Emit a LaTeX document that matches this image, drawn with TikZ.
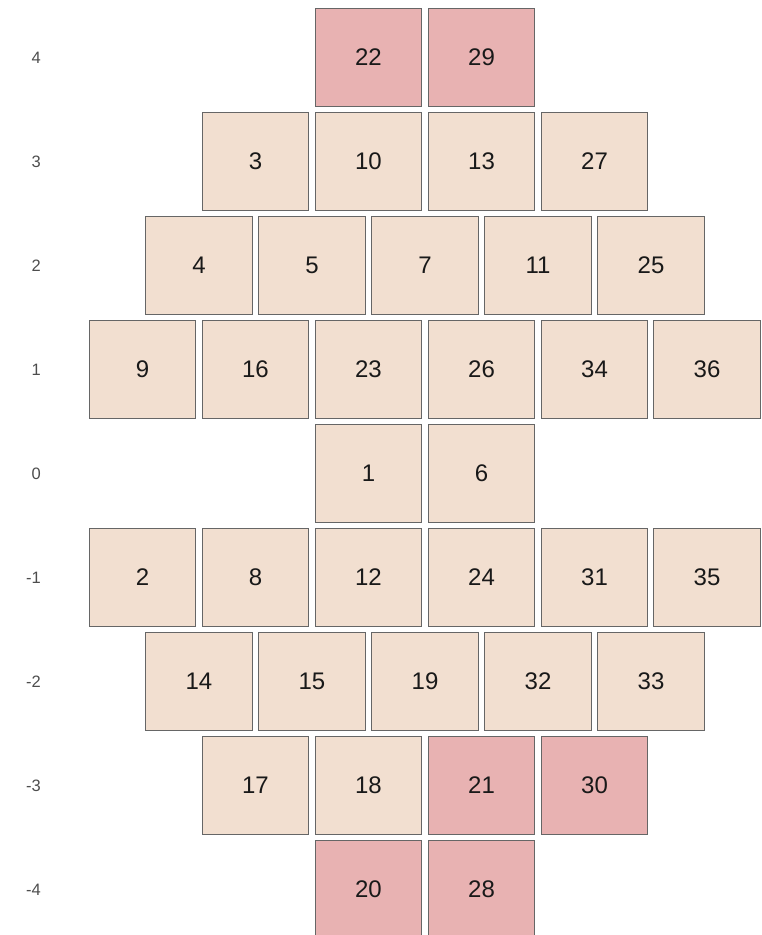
\documentclass[tikz,border=0pt]{standalone}
\usepackage{fontspec}
\setmainfont{Liberation Sans}
\definecolor{pinkc}{HTML}{E8B2B2}
\definecolor{beigec}{HTML}{F2DFD0}
\definecolor{edgec}{HTML}{666666}
\definecolor{labc}{HTML}{4D4D4D}
\begin{document}
\begin{tikzpicture}[x=1pt,y=-1pt,
  cell/.style={draw=edgec,line width=1.3pt,minimum width=106.5pt,minimum height=98pt,inner sep=0pt,font=\fontsize{24}{24}\selectfont,text=black!90},
  calm/.style={cell,fill=beigec},
  hot/.style={cell,fill=pinkc},
  rowlab/.style={anchor=east,inner sep=0pt,text=labc,font=\fontsize{16.5}{16.5}\selectfont}]
\useasboundingbox (0,0) rectangle (761,935);
\clip (0,0) rectangle (761,935);
% row labels
\foreach \r in {4,3,2,1,0,-1,-2,-3,-4}{
  \node[rowlab] (lab\r) at (41,{57.5+(4-\r)*104}) {\r};
}
% cells: name/x/row/style
\foreach \n/\x/\r/\s in {
  22/368.5/4/hot, 29/481.5/4/hot,
  3/255.5/3/calm, 10/368.5/3/calm, 13/481.5/3/calm, 27/594.5/3/calm,
  4/199/2/calm, 5/312/2/calm, 7/425/2/calm, 11/538/2/calm, 25/651/2/calm,
  9/142.5/1/calm, 16/255.5/1/calm, 23/368.5/1/calm, 26/481.5/1/calm, 34/594.5/1/calm, 36/707/1/calm,
  1/368.5/0/calm, 6/481.5/0/calm,
  2/142.5/-1/calm, 8/255.5/-1/calm, 12/368.5/-1/calm, 24/481.5/-1/calm, 31/594.5/-1/calm, 35/707/-1/calm,
  14/199/-2/calm, 15/312/-2/calm, 19/425/-2/calm, 32/538/-2/calm, 33/651/-2/calm,
  17/255.5/-3/calm, 18/368.5/-3/calm, 21/481.5/-3/hot, 30/594.5/-3/hot,
  20/368.5/-4/hot, 28/481.5/-4/hot}{
  \node[\s] (c\n) at (\x,{57.5+(4-\r)*104}) {\n};
}
\end{tikzpicture}
\end{document}
